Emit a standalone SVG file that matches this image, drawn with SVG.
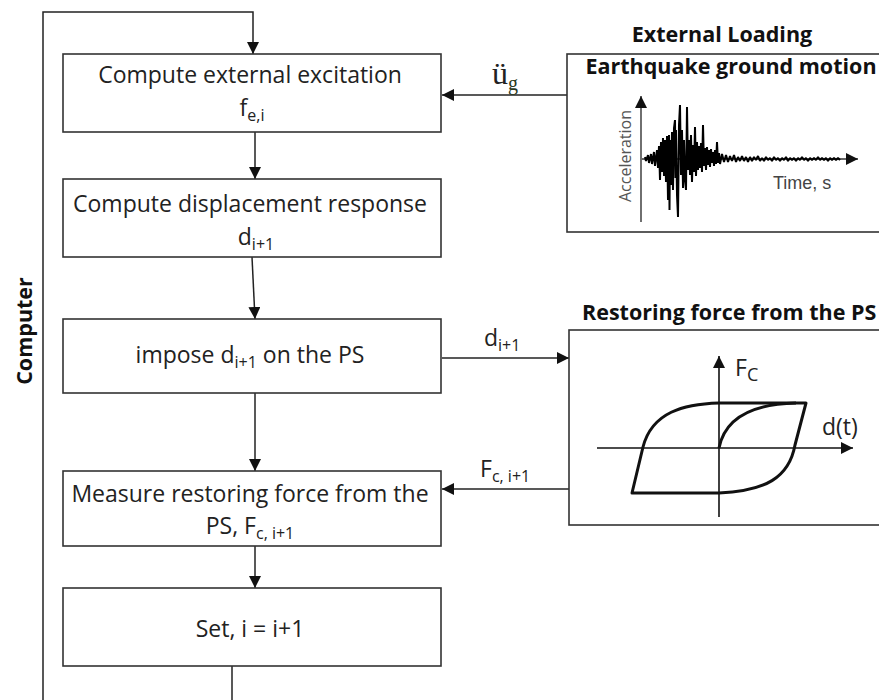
<svg xmlns="http://www.w3.org/2000/svg" width="879" height="700" viewBox="0 0 879 700">
<style>
.box{fill:#fff;stroke:#333;stroke-width:1.6}
.ln{fill:none;stroke:#222;stroke-width:1.5}
.t{font-family:"Open Sans","Liberation Sans",sans-serif;font-size:23px;fill:#222}
.s{font-size:16px}
.b{font-family:"Open Sans","Liberation Sans",sans-serif;font-weight:bold;font-size:21.5px;fill:#111}
</style>
<defs>
<marker id="ah" viewBox="0 0 12 12" refX="12" refY="6" markerWidth="12" markerHeight="12" markerUnits="userSpaceOnUse" orient="auto">
<path d="M0,0 L12,6 L0,12 Z" fill="#111"/>
</marker>
</defs>
<rect width="879" height="700" fill="#fff"/>

<g id="connectors">
<path class="ln" d="M43,700 L43,12 L253,12 L253,54" marker-end="url(#ah)"/>
<path class="ln" d="M255,132 L255,179" marker-end="url(#ah)"/>
<path class="ln" d="M252,257 L255,319" marker-end="url(#ah)"/>
<path class="ln" d="M255,393 L255,471" marker-end="url(#ah)"/>
<path class="ln" d="M255,546 L255,588" marker-end="url(#ah)"/>
<path class="ln" d="M232,666 L232,700"/>
<path class="ln" d="M567,95 L442,95" marker-end="url(#ah)"/>
<path class="ln" d="M442,358 L569,358" marker-end="url(#ah)"/>
<path class="ln" d="M569,489 L442,489" marker-end="url(#ah)"/>
<text x="492" y="84" font-family="'Liberation Serif',serif" font-size="32" fill="#222">ü<tspan font-size="20" dy="6" fill="#2a3a22">g</tspan></text>
<text x="484" y="346" class="t">d<tspan class="s" dy="5">i+1</tspan></text>
<text x="480" y="477" class="t">F<tspan class="s" dy="5">c, i+1</tspan></text>
</g>

<g id="computer-label">
<text class="b" transform="translate(32,331) rotate(-90)" text-anchor="middle" font-size="22">Computer</text>
</g>

<g id="box1">
<rect class="box" x="63" y="54" width="378" height="78"/>
<text class="t" x="250" y="83" text-anchor="middle">Compute external excitation</text>
<text class="t" x="252" y="116" text-anchor="middle">f<tspan class="s" dy="5">e,i</tspan></text>
</g>

<g id="box2">
<rect class="box" x="63" y="179" width="378" height="78"/>
<text class="t" x="250" y="212" text-anchor="middle">Compute displacement response</text>
<text class="t" x="256" y="245" text-anchor="middle">d<tspan class="s" dy="5">i+1</tspan></text>
</g>

<g id="box3">
<rect class="box" x="63" y="319" width="378" height="74"/>
<text class="t" x="250" y="363" text-anchor="middle">impose d<tspan class="s" dy="5">i+1</tspan><tspan dy="-5"> on the PS</tspan></text>
</g>

<g id="box4">
<rect class="box" x="63" y="471" width="378" height="75"/>
<text class="t" x="250" y="502" text-anchor="middle">Measure restoring force from the</text>
<text class="t" x="250" y="534" text-anchor="middle">PS, F<tspan class="s" dy="5">c, i+1</tspan></text>
</g>

<g id="box5">
<rect class="box" x="63" y="588" width="378" height="78"/>
<text class="t" x="250" y="637" text-anchor="middle">Set, i = i+1</text>
</g>

<g id="external-loading">
<text class="b" x="722" y="42" text-anchor="middle">External Loading</text>
<rect class="box" x="567" y="54" width="330" height="178"/>
<text class="b" x="731" y="74" text-anchor="middle" font-size="20.2">Earthquake ground motion</text>
<path d="M641,222 L641,96" stroke="#333" stroke-width="1.4" fill="none" marker-end="url(#ah)"/>
<path d="M642,159 L858,159" stroke="#333" stroke-width="1.4" fill="none" marker-end="url(#ah)"/>
<text transform="translate(631,156) rotate(-90)" text-anchor="middle" font-family="'Open Sans','Liberation Sans',sans-serif" font-size="16" fill="#555">Acceleration</text>
<text x="773" y="189" font-family="'Liberation Sans',sans-serif" font-size="18" fill="#444">Time, s</text>
<path fill="none" stroke="#000" stroke-width="2" stroke-linejoin="bevel" d="M645,157 L646,161 L648,155 L649,163 L651,154 L652,164 L654,152 L655,166 L657,150 L658,168 L659,146 L660,180 L661,142 L662,172 L663,138 L664,176 L665,140 L666,182 L667,136 L668,200 L669,135 L669.5,210 L670,140 L671,185 L672,132 L673,190 L674,128 L675,120 L675.5,178 L676,130 L677,195 L678,217 L679,125 L680,105 L681,175 L682,130 L683,188 L684,140 L685,180 L686,190 L687,107 L688,170 L689,140 L690,175 L691,135 L692,182 L693,145 L694,172 L695,127 L696,176 L697,142 L698,170 L699,146 L700,168 L701,143 L702,172 L703,125 L704,166 L705,148 L706,170 L707,147 L708,165 L709,150 L710,167 L711,149 L712,163 L713,152 L714,166 L715,150 L716,164 L717,142 L718,163 L719,153 L720,164 L722,154 L724,162 L726,155 L728,162 L730,156 L732,161 L734,155 L736,162 L738,157 L740,161 L742,156 L744,161 L746,157 L748,162 L750,157 L752,161 L754,157 L756,160 L758,156 L760,161 L762,158 L764,161 L766,157 L768,160 L770,158 L772,161 L774,157 L776,160 L778,158 L780,161 L782,158 L784,160 L786,157 L788,161 L790,158 L792,160 L794,158 L796,161 L798,158 L800,160 L802,157 L804,160 L806,158 L808,161 L810,158 L812,160 L814,158 L816,160 L818,157 L820,160 L822,158 L824,160 L826,158 L828,161 L830,158 L832,160 L834,158 L836,160 L838,158 L840,160"/>
</g>

<g id="restoring-force">
<text class="b" x="582" y="320" font-size="22">Restoring force from the PS</text>
<rect class="box" x="569" y="330" width="330" height="195"/>
<path d="M719,517 L719,356" stroke="#111" stroke-width="1.6" fill="none" marker-end="url(#ah)"/>
<path d="M597,448 L853,448" stroke="#111" stroke-width="1.3" fill="none" marker-end="url(#ah)"/>
<text x="735" y="376" class="t" font-size="25">F<tspan font-size="18" dy="5">C</tspan></text>
<text x="822" y="435" class="t" font-size="26">d(t)</text>
<path fill="none" stroke="#111" stroke-width="3" stroke-linejoin="round" d="M806,403 L795,445 C789,478 765,491 719,493 L632,493 L643,447 C652,412 684,404 719,403 Z"/>
<path fill="none" stroke="#111" stroke-width="3" d="M719,448 C725,418 752,404 796,403"/>
</g>
</svg>
